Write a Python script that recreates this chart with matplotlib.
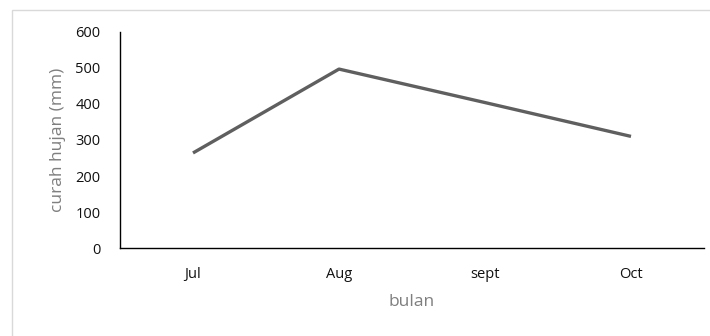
import matplotlib.pyplot as plt
from matplotlib.patches import Rectangle

bulan = ['Jul', 'Aug', 'sept', 'Oct']
curah_hujan = [264, 497, 404, 310]

plt.rcParams['font.family'] = ['Open Sans', 'DejaVu Sans']

W, H = 710, 336
fig = plt.figure(figsize=(W / 100, H / 100), dpi=100)

# bingkai tipis abu-abu di sekeliling area grafik
fig.patches.append(Rectangle((12 / W, -0.1), 1.1, 1.1 - 10 / H, transform=fig.transFigure,
                             fill=False, edgecolor='#d9d9d9', linewidth=1))

ax = fig.add_axes([120 / W, (H - 248) / H, (704 - 120) / W, (248 - 32) / H])
x = range(len(bulan))
ax.plot(x, curah_hujan, color='#5f5f5f', linewidth=2.4, solid_capstyle='butt')

ax.set_xlim(-0.5, len(bulan) - 0.5)
ax.set_ylim(0, 600)
ax.set_yticks(range(0, 601, 100))
ax.set_xticks(list(x))
ax.set_xticklabels(bulan)

for s in ['top', 'right']:
    ax.spines[s].set_visible(False)
for s in ['left', 'bottom']:
    ax.spines[s].set_color('#000000')
    ax.spines[s].set_linewidth(1)
ax.tick_params(length=0, labelsize=10.5, labelcolor='#111111')
ax.tick_params(axis='y', pad=14)
ax.tick_params(axis='x', pad=14)

ax.set_ylabel('curah hujan (mm)', fontsize=12.5, color='#7f7f7f', labelpad=7)
ax.set_xlabel('bulan', fontsize=12.5, color='#7f7f7f', labelpad=8)

fig.savefig('out.png', dpi=100)
